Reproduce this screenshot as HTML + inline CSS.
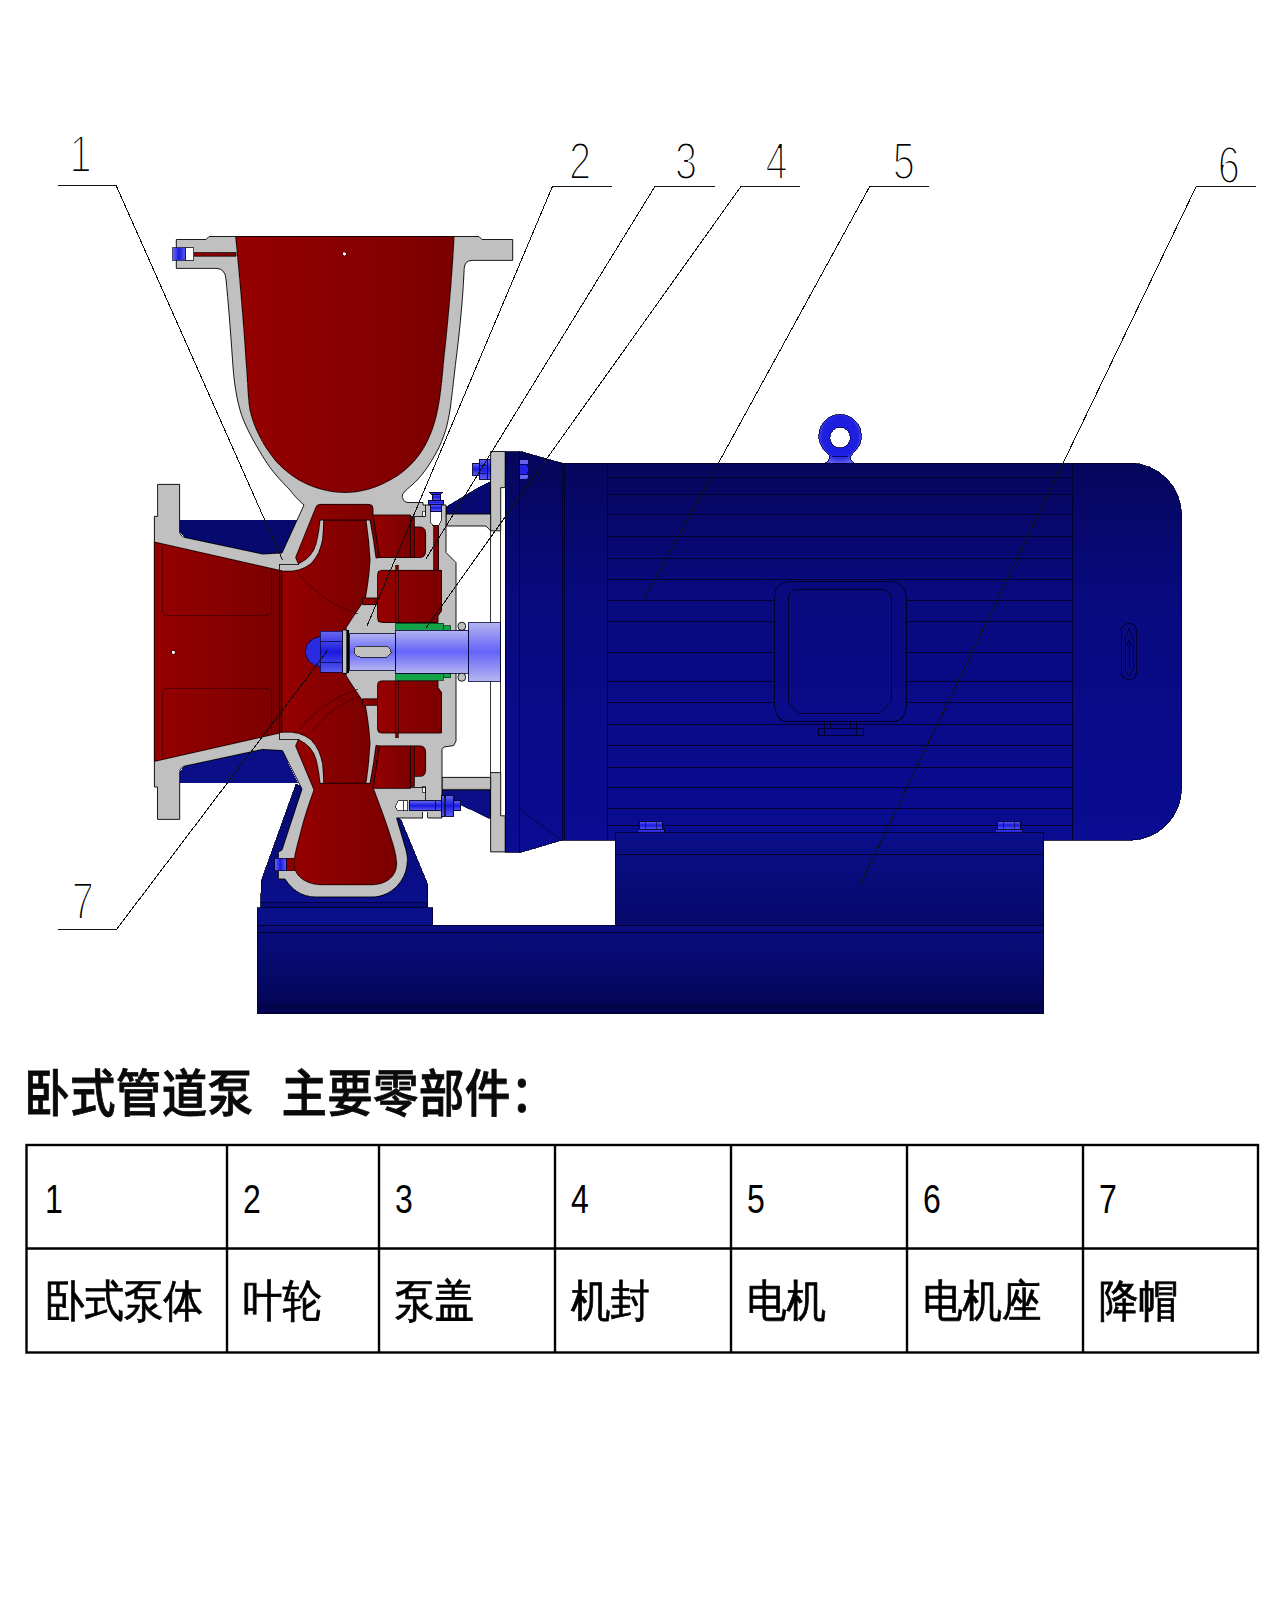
<!DOCTYPE html>
<html lang="zh"><head><meta charset="utf-8"><title>卧式管道泵 主要零部件</title>
<style>
html,body{margin:0;padding:0;background:#fff}
svg{display:block}
text{font-family:"Liberation Sans","WenQuanYi Zen Hei","Noto Sans CJK SC",sans-serif}
text.tt{font-family:"Liberation Sans","Noto Sans CJK SC",sans-serif;font-weight:500}
.g{fill:#c0c0c0;stroke:#000;stroke-width:.9;stroke-linejoin:round}
.r{fill:url(#red);stroke:#1a0000;stroke-width:.9;stroke-linejoin:round}
.k{fill:none;stroke:#000;stroke-width:.8}
.ld{fill:none;stroke:#111;stroke-width:1}
.b{stroke:#00002a;stroke-width:.8}
.fl{fill:none;stroke:#02022e;stroke-width:1}
.bb{fill:url(#bolt);stroke:#000030;stroke-width:.9}
</style></head><body>
<svg width="1280" height="1600" viewBox="0 0 1280 1600" shape-rendering="crispEdges">
<defs>
<linearGradient id="red" x1="0" y1="0" x2="1" y2="0"><stop offset="0" stop-color="#960000"/><stop offset="1" stop-color="#7b0000"/></linearGradient>
<linearGradient id="mot" gradientUnits="userSpaceOnUse" x1="0" y1="455" x2="0" y2="850"><stop offset="0" stop-color="#05065a"/><stop offset=".35" stop-color="#080a7e"/><stop offset=".7" stop-color="#090b8a"/><stop offset="1" stop-color="#0a0c92"/></linearGradient>
<linearGradient id="foot" x1="0" y1="0" x2="0" y2="1"><stop offset="0" stop-color="#0a0f8a"/><stop offset="1" stop-color="#05096a"/></linearGradient>
<linearGradient id="base" x1="0" y1="0" x2="0" y2="1"><stop offset="0" stop-color="#090d80"/><stop offset=".45" stop-color="#060a6c"/><stop offset="1" stop-color="#030550"/></linearGradient>
<linearGradient id="pf" x1="0" y1="0" x2="0" y2="1"><stop offset="0" stop-color="#060a70"/><stop offset="1" stop-color="#0a0f8c"/></linearGradient>
<linearGradient id="shaft" x1="0" y1="0" x2="0" y2="1"><stop offset="0" stop-color="#b4b4f0"/><stop offset=".5" stop-color="#6464fa"/><stop offset="1" stop-color="#b4b4f0"/></linearGradient>
<linearGradient id="bolt" x1="0" y1="0" x2="0" y2="1"><stop offset="0" stop-color="#6a6af0"/><stop offset=".5" stop-color="#1a1ae0"/><stop offset="1" stop-color="#5a5af0"/></linearGradient>
<linearGradient id="bolth" x1="0" y1="0" x2="1" y2="0"><stop offset="0" stop-color="#6a6af0"/><stop offset=".5" stop-color="#1a1ae0"/><stop offset="1" stop-color="#5a5af0"/></linearGradient>
<radialGradient id="eye" cx=".5" cy=".45" r=".55"><stop offset="0" stop-color="#1a1ae6"/><stop offset=".75" stop-color="#2020e0"/><stop offset="1" stop-color="#5a5af0"/></radialGradient>
</defs>
<rect width="1280" height="1600" fill="#fff"/>

<g id="base">
<rect class="b" x="257" y="925.3" width="786.8" height="88.2" fill="url(#base)"/>
<path class="fl" d="M257 932H1043.8M257 1006.6H1043.8"/>
<polygon class="b" fill="url(#pf)" points="296,784 261.5,880 260.6,903 427.6,903 427.6,884 401,820 380,800 310,790"/>
<rect class="b" x="260.6" y="902.6" width="167" height="5" fill="#070b78"/>
<rect class="b" x="257" y="907.5" width="175.6" height="17.8" fill="#0a0f8a"/>
</g>
<polygon fill="#060a6e" points="180,520 298,520 282,553.5 262.5,554.5 185,538 180,532"/>
<polygon fill="#0a0f88" points="180,783.4 298,783.4 282,749.9 262.5,748.9 185,765.4 180,771.4"/>
<g id="motor">
<path class="b" fill="url(#mot)" d="M562.5 463H1129.6A52 52 0 0 1 1181.6 515V788.3A52 52 0 0 1 1129.6 840.3H562.5Z"/>
<polygon class="b" fill="url(#mot)" points="519.4,451.5 521,451.5 561.5,463 562.5,463 562.5,840.3 561.5,840.3 521,852.3 519.4,852.3"/>
<rect class="b" x="505.3" y="451.5" width="14.1" height="400.8" fill="url(#mot)"/>
<path d="M561.5 463L520 494M561.5 840.3L520 809.5" fill="none" stroke="#03043c" stroke-width=".9"/>
<path class="fl" d="M607.5 463V840.3M1072.5 463V840.3M564.5 463V840.3"/>
<path class="fl" d="M607.4 477.3H1072.4M607.4 494.3H1072.4M607.4 514.8H1072.4M607.4 536.6H1072.4M607.4 558.1H1072.4M607.4 579.1H1072.4M607.4 600.6H1072.4M607.4 621.9H1072.4M607.4 652.1H1072.4M607.4 681H1072.4M607.4 702H1072.4M607.4 724H1072.4M607.4 745.3H1072.4M607.4 767.3H1072.4M607.4 787.8H1072.4M607.4 808.8H1072.4M607.4 825.1H1072.4"/>
<rect x="774.9" y="581.8" width="131.1" height="140" rx="14" fill="url(#mot)" stroke="#02022e" stroke-width="1"/>
<path d="M798 589H881.2A10 10 0 0 1 891.2 599V702L880 713.2H799.5L788 702V599A10 10 0 0 1 798 589Z" fill="none" stroke="#02022e" stroke-width="1"/>
<path class="fl" d="M818.3 728H863V735.7H818.3ZM824.5 721V728M830 721V728M850.5 721V728M856 721V728M824.5 728V735.7M856 728V735.7"/>
<rect x="1121.7" y="623.7" width="14.5" height="55.7" rx="6" fill="none" stroke="#02022e" stroke-width="1"/>
<path d="M1129 628L1125 640V670L1129 676L1133 670V640ZM1129 640V668M1126.5 646L1129 640L1131.5 646" fill="none" stroke="#02022e" stroke-width=".8"/>
<path d="M824.4 463.3C830 461 830.5 457 828 453.5A21.4 21.4 0 1 1 852.2 453.5C849.5 457 850 461 854.8 463.3Z" fill="url(#eye)" stroke="#00003a" stroke-width=".8"/>
<circle cx="840.1" cy="437.6" r="10.3" fill="#fff" stroke="#00003a" stroke-width=".8"/>
<path d="M832 456.5H848" stroke="#00003a" stroke-width=".7" fill="none"/>
<rect class="b" x="615.2" y="832.8" width="428.6" height="92.5" fill="url(#foot)"/>
<path class="fl" d="M615.2 854.7H1043.8"/>
<rect class="bb" x="639" y="821" width="23.4" height="8.4"/>
<path d="M645.5 821V829.4M656 821V829.4" stroke="#00003a" stroke-width=".6"/>
<rect class="bb" x="637" y="829.4" width="27.4" height="3.4"/>
<rect class="bb" x="997.2" y="821" width="23.4" height="8.4"/>
<path d="M1003.7 821V829.4M1014.2 821V829.4" stroke="#00003a" stroke-width=".6"/>
<rect class="bb" x="995.2" y="829.4" width="27.4" height="3.4"/>
<path d="M520 459.7H526Q528 459.7 528 461.7V463.6H520ZM520 475H528V476.8Q528 478.8 526 478.8H520Z" fill="#6464ee"/>
<path d="M520 465H527L528.3 469.5L527 474H520Z" fill="#2222e4"/>
</g>
<g id="bracket">
<polygon fill="#060a70" stroke="#00002a" stroke-width=".6" points="446,507 465,495.5 477.5,488 490.6,481 490.6,514 446,514"/>
<polygon fill="#0a0f88" stroke="#00002a" stroke-width=".6" points="442,790 490.6,790 490.6,819 461,805 454,801.5 454,796 442,796"/>
<polygon class="g" points="490.6,451.5 505.2,451.5 505.2,487.6 500.7,487.6 500.7,530.8 490.6,530.8"/>
<polygon class="g" points="490.6,851.9 505.2,851.9 505.2,815.8 500.7,815.8 500.7,772.6 490.6,772.6"/>
<polygon class="g" points="446,514 490.6,514 490.6,530.8 486,526 446,526"/>
<polygon class="g" points="442,789.4 490.6,789.4 490.6,777.4 442,777.4"/>
<path class="k" d="M490.6 530.8V772.6M500.5 530.8V772.6M505.2 487.6V815.8"/>
</g>
<g id="pump">
<path class="g" d="M176.3 239.5H206L209 236.5H479L482 239.5H512.7V260.4H472Q464.6 260.6 464.2 268.5L463.6 280C462 310 458 345 456 360C453 385 451.5 400 450 410C448 422 446 430 444 435C441 444 437 452 432 460C426 470 419 479 412 485C405 491 401.5 494 402.5 497.5C403.5 501 405 502.5 408.7 502.5H423V505H446V552.5L456 562.5V741L453.7 745.6L443.7 747L442 749.4V818H396.6L406 850Q408.5 858 407 865C405.5 880 392 897 372 897H316C300 897 291 888 285 879H278.4V852L282 850L302 789L282.5 750.6L262.5 749.4L185 766Q179.7 767.5 179.7 772.5V819.4H157.5V787H154.4V516.4H157.6V484.4H179.6V531Q179.7 536 185 537.5L262.5 554L282 553L304 505C297 499 292 493 290 490C280 480 271 470 265 460C253 441 244 424 240 410C235 392 233.5 375 232.5 360C230.5 330 228 300 226 279Q225 269 217 268.4H176.3Z"/>
<path class="r" d="M235.7 236.5H454C452 280 447 330 443.7 360C441.5 385 440 398 437.5 410C435.5 420 433 428 430 435C426 445 421 453 415 460C408 468 400 475 390 480C378 487 362 492.5 345 492.5C328 492.5 311 487 299 480C289 474 281 467 275 460C269 452 263 444 259 435C255 427 252 419 250 410C248 398 248 385 246 360C243.5 320 239 270 235.7 236.5Z"/>
<rect x="279" y="570" width="3.2" height="163.4" fill="#6e0000"/>
<polygon class="r" points="154.4,542 279.5,570.3 279.5,733.1 154.4,761.4"/>
<path d="M162.4 546.5V611Q162.4 615 166.4 615H267.6Q271.6 615 271.6 611V570" fill="none" stroke="#4a0000" stroke-width=".8"/>
<path d="M162.4 546.5V611Q162.4 615 166.4 615H267.6Q271.6 615 271.6 611V570" transform="matrix(1 0 0 -1 0 1303.4)" fill="none" stroke="#4a0000" stroke-width=".8"/>
<circle cx="173.4" cy="652.4" r="1.8" fill="#fff" stroke="#300" stroke-width=".4"/>
<circle cx="344.4" cy="254" r="1.8" fill="#fff" stroke="#300" stroke-width=".4"/>
<polygon class="r" points="281.8,571.2 292,571.2 298.7,570 305,567.5 311,563.7 315.5,558 318.7,552.5 321,546 322.5,540 323.4,530 323.7,520 366,520 368.5,540 370,560 369,573 367.5,585 365.6,597 361,605 353,617 346.2,627.5 346.2,633 346.2,670.4 346.2,675.9 353,686.4 361,698.4 365.6,706.4 367.5,718.4 369,730.4 370,743.4 368.5,763.4 366,783.4 323.7,783.4 323.4,773.4 322.5,763.4 321,757.4 318.7,750.9 315.5,745.4 311,739.7 305,735.9 298.7,733.4 292,732.2 281.8,732.2"/>
<path d="M297 571.5Q322 603 358 614" fill="none" stroke="#3a0000" stroke-width=".7"/>
<path d="M297 731.9Q322 700.4 358 689.4" fill="none" stroke="#3a0000" stroke-width=".7"/>
<path d="M312 731.4Q333 703.4 360 696.4" fill="none" stroke="#3a0000" stroke-width=".7"/>
<path class="k" d="M279.4 570.3V564.4H298.6V561M279.4 733.1V739.0H298.6V742.4"/>
<path class="r" d="M320 504.4H369Q373 504.4 373 508.4V515L379.4 557.5L376 558L373.5 540L370 520H320L318.8 530L317.5 537.5L316 544L313.7 550L310 555.5L305 560L298.7 563.7L298 563L295.6 557.5L316 507Q317 504.4 320 504.4Z"/>
<path class="r" d="M320 783.4L318.8 773.4L317.5 765.9L316 759.4L313.7 753.4L310 747.9L305 743.4L298.7 739.7L298 740.4L295.6 745.9L314 790C308 806 303 822 300 835C297 846 294.5 855 294 863C293.5 875 305 884.7 322 884.7H371C388 884.7 397 875 396.6 863C396 853 393 844 390 835C386 822 380 806 374 790L373 788.4L379.4 745.9L376 745.4L373.5 763.4L370 783.4Z"/>
<polygon class="r" points="373.3,515 410.6,515 410.6,557.5 379.4,557.5"/>
<polygon class="r" points="410.6,517 414.4,517 414.4,557.5 410.6,557.5"/>
<path class="r" d="M414.4 527H419.6Q425.6 527 425.6 533V551.5Q425.6 557.5 419.6 557.5H414.4Z"/>
<path class="r" d="M381.5 570.4H441.5V611L438 616V622.5H381.5Q377.5 622.5 377.5 618.5V574.4Q377.5 570.4 381.5 570.4Z"/>
<path d="M395.6 565V622.5M398.7 565V622.5" fill="none" stroke="#200000" stroke-width=".7"/>
<rect x="395.9" y="565" width="2.5" height="5.4" fill="#7a0000"/>
<rect class="r" x="362.5" y="598" width="15" height="6.6"/>
<rect x="395.6" y="623" width="47.4" height="7.4" fill="#12a446" stroke="#003010" stroke-width=".7"/>
<rect x="443" y="625.6" width="7.6" height="4.8" fill="#12a446" stroke="#003010" stroke-width=".7"/>
<rect x="422.6" y="511" width="2.4" height="5.5" fill="#fff" stroke="#000" stroke-width=".6"/>
<polygon class="r" points="373.3,788.4 410.6,788.4 410.6,745.9 379.4,745.9"/>
<polygon class="r" points="410.6,786.4 414.4,786.4 414.4,745.9 410.6,745.9"/>
<path class="r" d="M414.4 776.4H419.6Q425.6 776.4 425.6 770.4V751.9Q425.6 745.9 419.6 745.9H414.4Z"/>
<path class="r" d="M381.5 733.0H441.5V692.4L438 687.4V680.9H381.5Q377.5 680.9 377.5 684.9V729.0Q377.5 733.0 381.5 733.0Z"/>
<path d="M395.6 738.4V680.9M398.7 738.4V680.9" fill="none" stroke="#200000" stroke-width=".7"/>
<rect x="395.9" y="733.0" width="2.5" height="5.4" fill="#7a0000"/>
<rect class="r" x="362.5" y="698.8" width="15" height="6.6"/>
<rect x="395.6" y="673.0" width="47.4" height="7.4" fill="#12a446" stroke="#003010" stroke-width=".7"/>
<rect x="443" y="673.0" width="7.6" height="4.8" fill="#12a446" stroke="#003010" stroke-width=".7"/>
<rect x="422.6" y="786.9" width="2.4" height="5.5" fill="#fff" stroke="#000" stroke-width=".6"/>
<rect x="349" y="633.5" width="46.6" height="36.5" fill="url(#shaft)" stroke="#00003a" stroke-width=".8"/>
<rect x="354" y="646" width="37" height="11" rx="5.5" fill="#c0c0c0" stroke="#000" stroke-width=".7"/>
<rect x="346.6" y="630" width="2.6" height="43.4" fill="#000"/>
<rect x="342.4" y="630" width="4.4" height="43.4" class="g"/>
<path d="M321 636.5A15.5 15.5 0 0 0 321 667Z" fill="#2222dc" stroke="#00003a" stroke-width=".7"/>
<path d="M321 636.5A17 15.3 0 0 0 321 667" fill="#2a2ae0" stroke="#00003a" stroke-width=".7"/>
<rect x="320.4" y="631" width="22" height="41.4" fill="url(#bolt)" stroke="#00003a" stroke-width=".7"/>
<path d="M320.4 641.5H342.4M320.4 662H342.4" stroke="#00003a" stroke-width=".7"/>
<path class="k" d="M411 787H425.4V800.6M411 516.4H425.4V505"/>
<rect class="r" x="433.7" y="525" width="4.8" height="45"/>
<path d="M430 511H441V521L438.8 525H432.4L430 521Z" fill="#fff" stroke="#000" stroke-width=".7"/>
<rect x="430" y="504.4" width="11" height="6.8" class="bb"/>
<rect x="428" y="500" width="15.7" height="4.6" class="bb"/>
<rect x="432" y="494" width="8.6" height="6" class="bb"/>
<path d="M429.4 492H442.5L440.6 494.4H431.4Z" class="bb"/>
<rect class="r" x="193.5" y="252.6" width="42.4" height="3.6"/>
<rect x="185.2" y="247.6" width="8.3" height="12.4" fill="#fff" stroke="#000" stroke-width=".7"/>
<rect x="172.8" y="247.6" width="12.4" height="12.4" fill="url(#bolth)" stroke="#00003a" stroke-width=".7"/>
<rect x="286" y="858.4" width="8.6" height="12.2" fill="#8a0000" stroke="#200" stroke-width=".6"/>
<rect x="274.7" y="858.4" width="11.3" height="12.2" fill="url(#bolth)" stroke="#00003a" stroke-width=".7"/>
<path d="M397.6 800.5H407.8V810.5H397.6L395.4 805.5Z" fill="#fff" stroke="#000" stroke-width=".7"/>
<path d="M403 800.5V810.5" stroke="#000" stroke-width=".7"/>
<rect x="409" y="800.6" width="32.3" height="10" class="bb"/>
<path d="M435.8 800.6V810.6" stroke="#000030" stroke-width=".9"/>
<rect x="441" y="795" width="3" height="21" class="bb"/>
<rect x="445.6" y="795" width="8.2" height="21" class="bb"/>
<rect x="453.7" y="800.6" width="6.8" height="10.2" class="bb"/>
<rect x="422.8" y="812.4" width="4.8" height="6.4" fill="#fff"/>
<path class="k" d="M422.8 818.4V812.4M427.6 818.4V812.4"/>
<rect x="472.5" y="463" width="7" height="12" class="bb"/>
<rect x="479.4" y="459" width="7.8" height="20" class="bb"/>
<rect x="487.2" y="459" width="3.4" height="20" class="bb"/>
<path d="M479.4 465H487.2M479.4 473H487.2" stroke="#00003a" stroke-width=".6"/>
</g>
<g id="shaft">
<rect x="468" y="622.5" width="32" height="58.5" fill="url(#shaft)" stroke="#00003a" stroke-width=".8"/>
<rect x="395.6" y="630.4" width="72.4" height="42.6" fill="url(#shaft)" stroke="#00003a" stroke-width=".8"/>
<rect x="458" y="622.3" width="7.6" height="8" rx="3.5" class="g"/>
<rect x="458" y="673.2" width="7.6" height="8" rx="3.5" class="g"/>
</g>
<g id="leaders">
<path class="ld" d="M58 185.8H116.3L282.5 560M611.5 186.3H552.5L367 626M714.5 186.3H655L425.6 559.4M799.8 186.3H741L426 628M929 186.3H869.8L643 601M1255.8 186.3H1196.3L860 885M58 929.3H116.6L328 650"/>
</g>
<g id="labels" font-size="51" fill="#000" stroke="#fff" stroke-width="2.2">
<text x="80.5" y="172.2" text-anchor="middle" transform="translate(80.5 0) scale(.78 1) translate(-80.5 0)">1</text>
<text x="580.1" y="179.5" text-anchor="middle" transform="translate(580.1 0) scale(.78 1) translate(-580.1 0)">2</text>
<text x="686" y="179.5" text-anchor="middle" transform="translate(686 0) scale(.78 1) translate(-686 0)">3</text>
<text x="776.5" y="179.5" text-anchor="middle" transform="translate(776.5 0) scale(.78 1) translate(-776.5 0)">4</text>
<text x="903.9" y="179.5" text-anchor="middle" transform="translate(903.9 0) scale(.78 1) translate(-903.9 0)">5</text>
<text x="1228.8" y="182.6" text-anchor="middle" transform="translate(1228.8 0) scale(.78 1) translate(-1228.8 0)">6</text>
<text x="82.9" y="918.8" text-anchor="middle" transform="translate(82.9 0) scale(.78 1) translate(-82.9 0)">7</text>
</g>
<g font-size="45.5" fill="#0a0a0a" stroke="#0a0a0a" stroke-width=".7" letter-spacing=".3" transform="translate(0 1112.4) scale(1 1.13)"><text class="tt" x="24.3" y="0">卧式管道泵</text><text class="tt" x="281.5" y="0">主要零部件：</text></g>
<g id="table" shape-rendering="auto">
<rect x="26.5" y="1145" width="1231.5" height="207.5" fill="none" stroke="#000" stroke-width="2.4"/>
<path d="M26.5 1248.5H1258M227 1145V1352.5M379 1145V1352.5M555 1145V1352.5M731 1145V1352.5M907 1145V1352.5M1083 1145V1352.5" fill="none" stroke="#000" stroke-width="2.4"/>
<text x="45" y="1213" font-size="40" transform="translate(45 0) scale(.8 1) translate(-45 0)">1</text>
<text x="45" y="0" font-size="39.5" stroke="#000" stroke-width=".7" transform="translate(0 1316.2) scale(1 1.12)">卧式泵体</text>
<text x="243" y="1213" font-size="40" transform="translate(243 0) scale(.8 1) translate(-243 0)">2</text>
<text x="243" y="0" font-size="39.5" stroke="#000" stroke-width=".7" transform="translate(0 1316.2) scale(1 1.12)">叶轮</text>
<text x="395" y="1213" font-size="40" transform="translate(395 0) scale(.8 1) translate(-395 0)">3</text>
<text x="395" y="0" font-size="39.5" stroke="#000" stroke-width=".7" transform="translate(0 1316.2) scale(1 1.12)">泵盖</text>
<text x="571" y="1213" font-size="40" transform="translate(571 0) scale(.8 1) translate(-571 0)">4</text>
<text x="571" y="0" font-size="39.5" stroke="#000" stroke-width=".7" transform="translate(0 1316.2) scale(1 1.12)">机封</text>
<text x="747" y="1213" font-size="40" transform="translate(747 0) scale(.8 1) translate(-747 0)">5</text>
<text x="747" y="0" font-size="39.5" stroke="#000" stroke-width=".7" transform="translate(0 1316.2) scale(1 1.12)">电机</text>
<text x="923" y="1213" font-size="40" transform="translate(923 0) scale(.8 1) translate(-923 0)">6</text>
<text x="923" y="0" font-size="39.5" stroke="#000" stroke-width=".7" transform="translate(0 1316.2) scale(1 1.12)">电机座</text>
<text x="1099" y="1213" font-size="40" transform="translate(1099 0) scale(.8 1) translate(-1099 0)">7</text>
<text x="1099" y="0" font-size="39.5" stroke="#000" stroke-width=".7" transform="translate(0 1316.2) scale(1 1.12)">降帽</text>
</g>
</svg></body></html>
